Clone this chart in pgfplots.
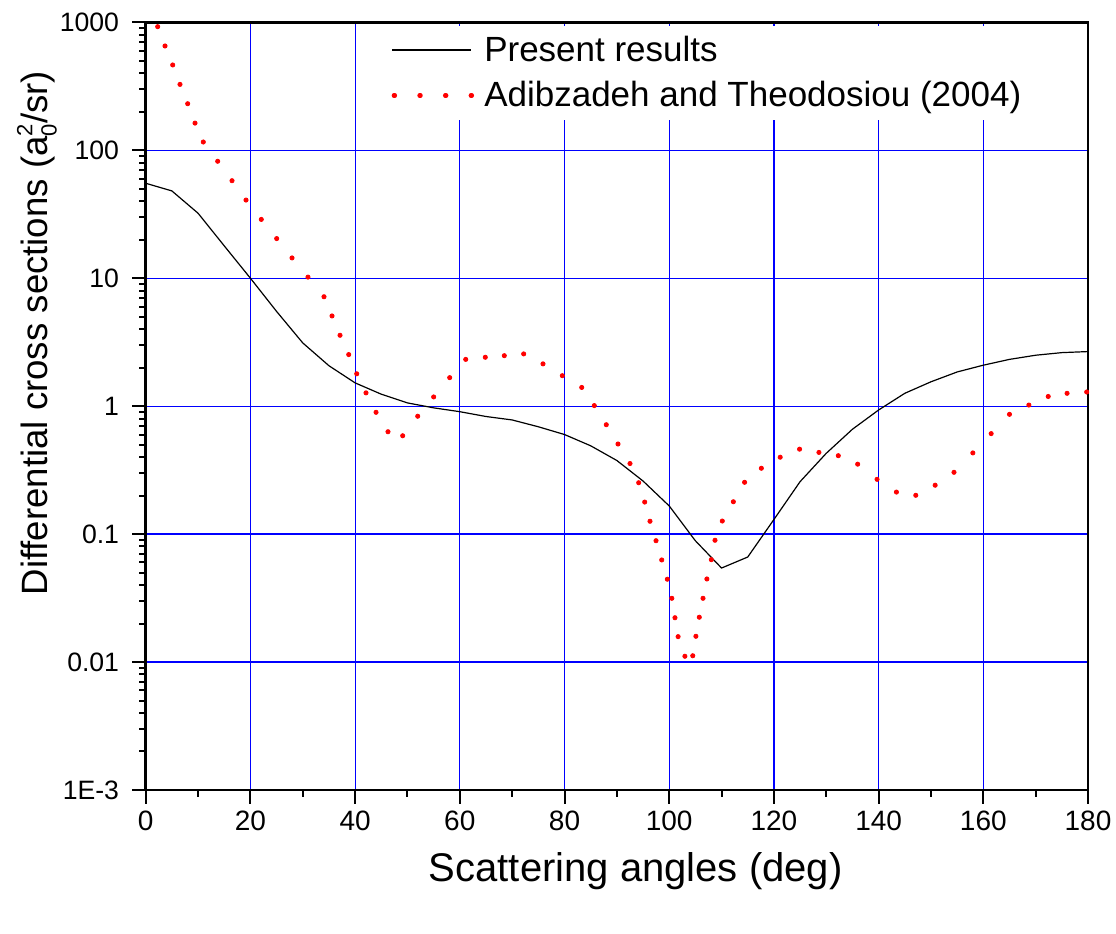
\documentclass[border=0pt]{standalone}
\usepackage{fontspec}
\setmainfont{Liberation Sans}
\usepackage{pgfplots}
\pgfplotsset{compat=1.18}
\begin{document}
\begin{tikzpicture}
\begin{axis}[
  name=ax,
  scale only axis, width=471.15pt, height=383.85pt,
  xmin=0, xmax=180, ymode=log, ymin=1e-3, ymax=1000,
  xtick={0,20,...,180}, minor xtick={10,30,...,170},
  xticklabels={0,20,40,60,80,100,120,140,160,180},
  ytick={1e-3,0.01,0.1,1,10,100,1000},
  yticklabels={1E-3,0.01,0.1,1,10,100,1000},
  /pgf/number format/assume math mode=true,
  xtick align=outside, ytick align=outside, xtick pos=bottom, ytick pos=left,
  major tick length=6.8pt, minor tick length=3.3pt,
  tick style={black, line width=1pt},
  axis line style={line width=1.3pt},
  grid=major, major grid style={blue, line width=0.6pt},
  xticklabel style={font=\fontsize{14}{14}\selectfont},
  yticklabel style={font=\fontsize{13.3}{13.3}\selectfont, xshift=-3pt},
  xlabel={Scattering angles (deg)},
  ylabel={Differential cross sections (a\rlap{\raisebox{-0.45ex}{\fontsize{11}{11}\selectfont 0}}\raisebox{0.8ex}{\fontsize{11}{11}\selectfont 2}/sr)},
  xlabel style={font=\fontsize{20}{20}\selectfont, at={(axis description cs:0.520,-0.106)}, anchor=center},
  ylabel style={font=\fontsize{18.3}{18.3}\selectfont, at={(axis description cs:-0.1154,0.595)}, anchor=center},
  legend cell align=left,
  legend style={at={(axis description cs:0.252,0.996)}, anchor=north west, draw=none, fill=white,
    font=\fontsize{17.5}{21}\selectfont, inner xsep=4pt, inner ysep=3pt, row sep=4.6pt,
    /tikz/every odd column/.append style={column sep=3pt}},
]
\addplot[black, line width=0.6pt,
  legend image code/.code={\draw[black, line width=0.6pt] (0pt,0pt) -- (39.5pt,0pt);}]
coordinates {
(0,55.2) (5,48.1) (10,32.2) (15,17.9) (20,10) (25,5.5) (30,3.12) (35,2.07)
(40,1.52) (45,1.24) (50,1.06) (55,0.97) (60,0.905) (65,0.83) (70,0.78)
(75,0.69) (80,0.60) (85,0.49) (90,0.376) (95,0.26) (100,0.166) (105,0.0887)
(110,0.0543) (115,0.0662) (120,0.13) (125,0.257) (130,0.428) (135,0.66)
(140,0.933) (145,1.26) (150,1.55) (155,1.85) (160,2.09) (165,2.32)
(170,2.5) (175,2.62) (180,2.67)
};
\addlegendentry{Present results}
\addplot[only marks, mark=*, mark size=1.05pt, red, mark options={draw=none, fill=red},
  legend image code/.code={\draw[red, line width=2.1pt, line cap=round, dash pattern=on 0.6pt off 12.23pt] (0.8pt,0pt) -- (40pt,0pt);}]
coordinates {
(2.29,924) (3.69,653) (5.16,464) (6.55,327) (8.02,231) (9.42,163) (11.0,116)
(13.75,82.0) (16.49,57.8) (19.16,40.8) (22.08,28.8) (25.02,20.4) (27.95,14.4)
(31.0,10.2) (34.06,7.16) (35.59,5.07) (37.12,3.58) (38.78,2.53) (40.31,1.79)
(42.08,1.27) (44.0,0.895) (46.28,0.631) (49.09,0.587) (51.96,0.834) (55.01,1.18)
(58.07,1.67) (61.13,2.32) (64.87,2.41) (68.5,2.48) (72.2,2.56) (75.89,2.14)
(79.58,1.73) (83.29,1.40) (85.69,1.01) (87.98,0.716) (90.22,0.506) (92.51,0.356)
(94.17,0.252) (95.32,0.178) (96.33,0.126) (97.48,0.0888) (98.57,0.0628)
(99.64,0.0444) (100.5,0.0315) (101.1,0.0222) (101.7,0.0158) (103.0,0.0111)
(104.5,0.0112) (105.1,0.0159) (105.75,0.0224) (106.46,0.0315) (107.2,0.0446)
(108.04,0.0631) (108.75,0.0895) (110.14,0.1265) (112.25,0.179) (114.4,0.254)
(117.6,0.327) (121.2,0.399) (124.9,0.461) (128.6,0.435) (132.3,0.410)
(136.0,0.352) (139.7,0.268) (143.4,0.213) (147.1,0.201) (150.8,0.241)
(154.4,0.304) (158.0,0.431) (161.5,0.610) (165.0,0.863) (168.7,1.02)
(172.4,1.19) (176.0,1.26) (179.75,1.29)
};
\addlegendentry{Adibzadeh and Theodosiou (2004)}
\end{axis}
\pgfresetboundingbox
\path ([xshift=-72.85pt,yshift=-72pt]ax.south west) rectangle ([xshift=14pt,yshift=11.15pt]ax.north east);
\end{tikzpicture}
\end{document}
